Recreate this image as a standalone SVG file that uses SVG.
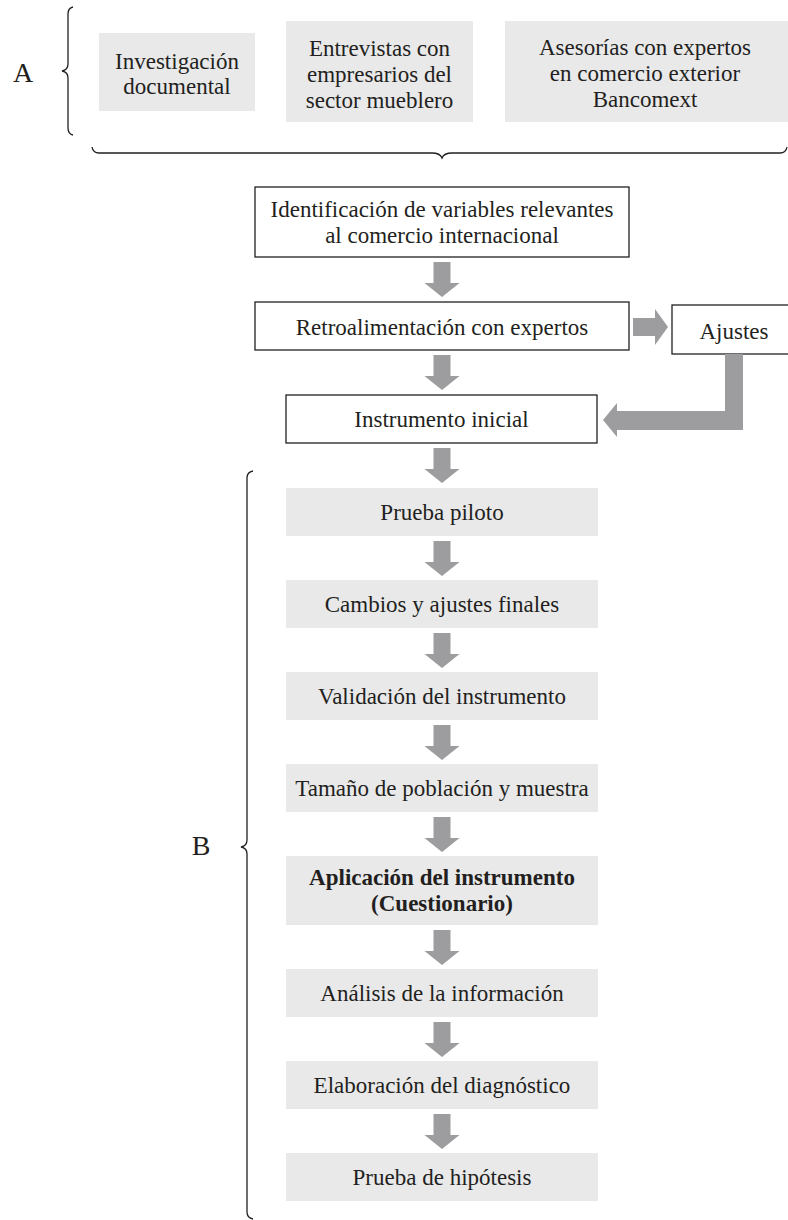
<svg xmlns="http://www.w3.org/2000/svg" width="788" height="1220" viewBox="0 0 788 1220">
<style>
.t{font-family:"Liberation Serif","Times New Roman",serif;font-size:23px;fill:#231f20;text-anchor:middle}
.b{font-weight:bold}
.lbl{font-family:"Liberation Serif","Times New Roman",serif;font-size:28px;fill:#231f20;text-anchor:middle}
.g{fill:#e9e9ea}
.w{fill:#ffffff;stroke:#231f20;stroke-width:1.3}
.ar{fill:#9d9d9f}
.br{fill:none;stroke:#231f20;stroke-width:1.3}
</style>
<defs>
<path id="dn" d="M-8.5,0 H8.5 V21 H17.5 L0,35 L-17.5,21 H-8.5 Z"/>
</defs>
<rect width="788" height="1220" fill="#ffffff"/>

<g id="labelA"><text class="lbl" x="23" y="82">A</text></g>
<g id="braceA"><path class="br" d="M73,7 Q68,8 68,14 L68,64 Q68,70 62,71 Q68,72 68,78 L68,128 Q68,134 73,135"/></g>
<g id="braceTop"><path class="br" d="M92,147 Q93,153 99,153 L432,153 Q440,153 442,158 Q444,153 452,153 L780,153 Q786,153 787,147"/></g>

<g id="n_investigacion"><rect class="g" x="99" y="33" width="156" height="78"/>
<text class="t" x="177" y="69">Investigación</text><text class="t" x="177" y="94">documental</text></g>
<g id="n_entrevistas"><rect class="g" x="286" y="21" width="187" height="101"/>
<text class="t" x="379.5" y="56">Entrevistas con</text><text class="t" x="379.5" y="82">empresarios del</text><text class="t" x="379.5" y="108">sector mueblero</text></g>
<g id="n_asesorias"><rect class="g" x="505" y="21" width="290" height="101"/>
<text class="t" x="645" y="55">Asesorías con expertos</text><text class="t" x="645" y="81">en comercio exterior</text><text class="t" x="645" y="107">Bancomext</text></g>

<g id="n_identificacion"><rect class="w" x="255" y="187" width="374" height="70"/>
<text class="t" x="442" y="217">Identificación de variables relevantes</text><text class="t" x="442" y="243">al comercio internacional</text></g>
<g id="n_retro"><rect class="w" x="255" y="302" width="374" height="48"/>
<text class="t" x="442" y="335">Retroalimentación con expertos</text></g>
<g id="n_ajustes"><rect class="w" x="672" y="305" width="124" height="49"/>
<text class="t" x="734" y="339">Ajustes</text></g>
<g id="n_instrumento"><rect class="w" x="286" y="395" width="311" height="48"/>
<text class="t" x="441.5" y="427">Instrumento inicial</text></g>

<g id="labelB"><text class="lbl" x="201" y="855">B</text></g>
<g id="braceB"><path class="br" d="M253,471 Q247,472 247,478 L247,840 Q247,846 241,847 Q247,848 247,854 L247,1212 Q247,1218 253,1219"/></g>

<g id="n_piloto"><rect class="g" x="286" y="488" width="312" height="48"/><text class="t" x="442" y="520">Prueba piloto</text></g>
<g id="n_cambios"><rect class="g" x="286" y="580" width="312" height="48"/><text class="t" x="442" y="612">Cambios y ajustes finales</text></g>
<g id="n_validacion"><rect class="g" x="286" y="672" width="312" height="48"/><text class="t" x="442" y="704">Validación del instrumento</text></g>
<g id="n_tamano"><rect class="g" x="286" y="764" width="312" height="48"/><text class="t" x="442" y="796">Tamaño de población y muestra</text></g>
<g id="n_aplicacion"><rect class="g" x="286" y="856" width="312" height="69"/>
<text class="t b" x="442" y="885">Aplicación del instrumento</text><text class="t b" x="442" y="911">(Cuestionario)</text></g>
<g id="n_analisis"><rect class="g" x="286" y="969" width="312" height="48"/><text class="t" x="442" y="1001">Análisis de la información</text></g>
<g id="n_elaboracion"><rect class="g" x="286" y="1061" width="312" height="48"/><text class="t" x="442" y="1093">Elaboración del diagnóstico</text></g>
<g id="n_hipotesis"><rect class="g" x="286" y="1153" width="312" height="48"/><text class="t" x="442" y="1185">Prueba de hipótesis</text></g>

<g id="connectors" class="ar">
<use href="#dn" x="442" y="262"/>
<use href="#dn" x="442" y="355"/>
<use href="#dn" x="442" y="448"/>
<use href="#dn" x="442" y="541"/>
<use href="#dn" x="442" y="633"/>
<use href="#dn" x="442" y="725"/>
<use href="#dn" x="442" y="817"/>
<use href="#dn" x="442" y="930"/>
<use href="#dn" x="442" y="1022"/>
<use href="#dn" x="442" y="1114"/>
<path d="M633,318 H655 V309 L668,327 L655,345 V336 H633 Z"/>
<path d="M725,354 H743 V430 H617 V437 L603,420 L617,403 V411 H725 Z"/>
</g>
</svg>
